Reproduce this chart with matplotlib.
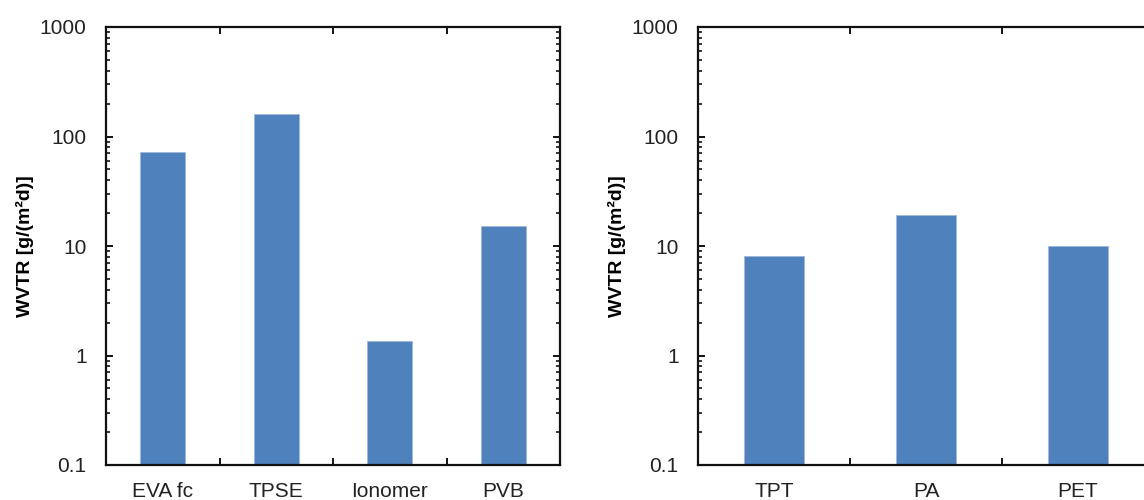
"""WVTR of encapsulants (left) and backsheets (right), log scale."""
import matplotlib
matplotlib.use("Agg")
import matplotlib.pyplot as plt
from matplotlib.ticker import FixedLocator, FuncFormatter, LogLocator, NullFormatter

plt.rcParams["font.family"] = ["Liberation Sans", "DejaVu Sans"]

encapsulants = ["EVA fc", "TPSE", "Ionomer", "PVB"]
encapsulant_wvtr = [72, 160, 1.25, 15]

backsheets = ["TPT", "PA", "PET"]
backsheet_wvtr = [8, 19, 10]

BAR_COLOR = "#4f81bd"
W, H = 1144, 500


def draw_panel(ax, names, values):
    xs = list(range(len(names)))
    ax.bar(xs, values, width=0.4, bottom=0.1, color=BAR_COLOR,
           edgecolor="#9db8dc", linewidth=0.6, zorder=2)
    ax.set_yscale("log")
    ax.set_ylim(0.1, 1000)
    ax.set_xlim(-0.5, len(names) - 0.5)

    ax.yaxis.set_major_locator(LogLocator(base=10, numticks=10))
    ax.yaxis.set_minor_locator(LogLocator(base=10, subs=range(2, 10), numticks=10))
    ax.yaxis.set_major_formatter(FuncFormatter(lambda v, _: f"{v:g}"))
    ax.yaxis.set_minor_formatter(NullFormatter())

    # category labels centred, tick marks on the boundaries between them
    ax.set_xticks(xs)
    ax.set_xticklabels(names, fontsize=15, color="#222222")
    ax.xaxis.set_minor_locator(FixedLocator([x + 0.5 for x in xs[:-1]]))
    ax.tick_params(axis="x", which="major", length=0, pad=12)
    ax.tick_params(axis="x", which="minor", direction="in", length=5,
                   width=1.3, top=True, bottom=True)
    ax.tick_params(axis="y", which="major", direction="in", length=5,
                   width=1.3, left=True, right=True, labelsize=15,
                   labelcolor="#222222", pad=14)
    ax.tick_params(axis="y", which="minor", direction="in", length=3,
                   width=1.1, left=True, right=True)

    for sp in ax.spines.values():
        sp.set_linewidth(1.6)
        sp.set_color("#111111")
    ax.set_ylabel("WVTR [g/(m²d)]", fontsize=14, fontweight="bold",
                  labelpad=4)


fig = plt.figure(figsize=(W / 100, H / 100), dpi=100)

# axes placed in pixel coordinates; the right panel runs past the figure edge
ax1 = fig.add_axes([106 / W, 1 - 465 / H, (560 - 106) / W, (465 - 27) / H])
ax2 = fig.add_axes([698 / W, 1 - 465 / H, (1154 - 698) / W, (465 - 27) / H])

draw_panel(ax1, encapsulants, encapsulant_wvtr)
draw_panel(ax2, backsheets, backsheet_wvtr)

fig.savefig("out.png", dpi=100)
